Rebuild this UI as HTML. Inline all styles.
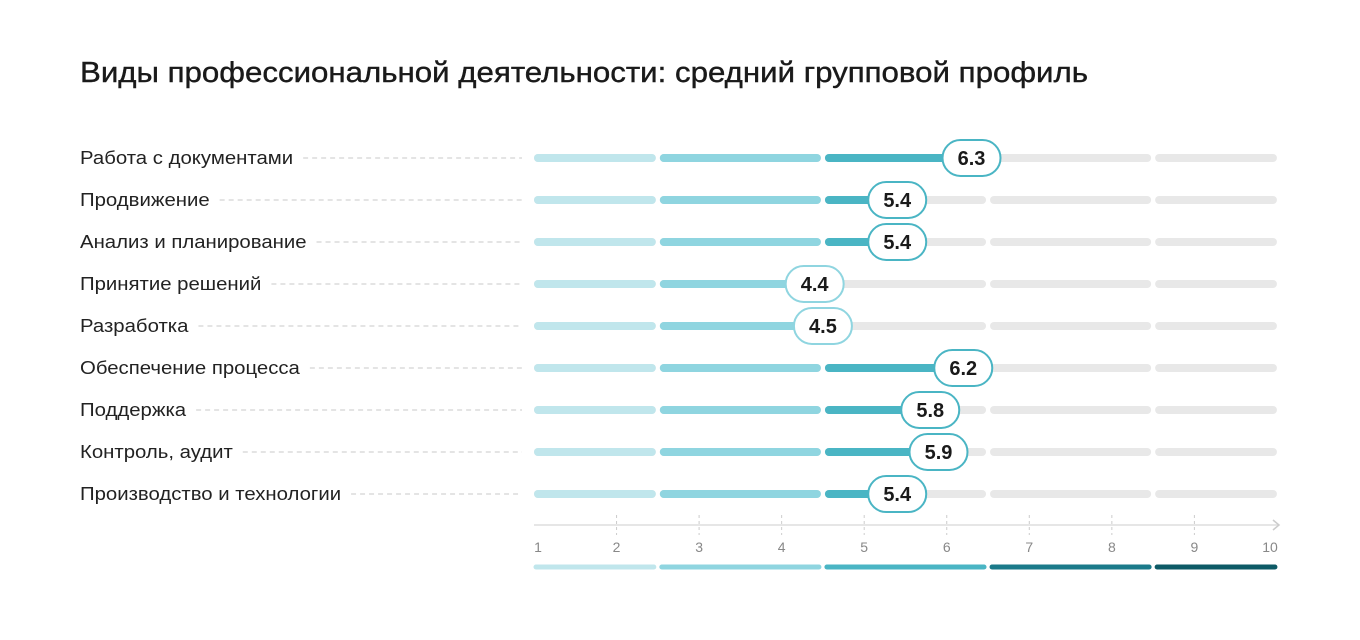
<!DOCTYPE html>
<html><head><meta charset="utf-8"><style>
body{margin:0;background:#fff;}
svg{display:block;font-family:"Liberation Sans",sans-serif;}
</style></head><body>
<svg width="1360" height="640" xmlns="http://www.w3.org/2000/svg">
<text x="80" y="82" font-size="29" fill="#1a1a1a" stroke="#1a1a1a" stroke-width="0.4" textLength="1008" lengthAdjust="spacingAndGlyphs">Виды профессиональной деятельности: средний групповой профиль</text>
<g id="rows"></g>
<line x1="534" y1="525" x2="1279" y2="525" stroke="#ddd" stroke-width="1.5"/>
<polyline points="1273,520 1279,525 1273,530" fill="none" stroke="#ccc" stroke-width="1.5"/>
<g id="axis" font-size="14" fill="#888" text-anchor="middle"></g>
<g id="legend"></g>
<script>
var NS="http://www.w3.org/2000/svg";
function X(v){return 534+(v-1)*82.55;}
function el(p,t,a,txt){var e=document.createElementNS(NS,t);for(var k in a)e.setAttribute(k,a[k]);if(txt!=null)e.textContent=txt;p.appendChild(e);return e;}
var segs=[[1,2.5,"#c0e6ec"],[2.5,4.5,"#8fd5e0"],[4.5,6.5,"#4ab5c4"],[6.5,8.5,"#1b7a8a"],[8.5,10,"#0d5a66"]];
function sx(s,i){return [X(s[0])+(i?2:0),X(s[1])-(i<4?2:0)];}
var data=[["Работа с документами",6.3],["Продвижение",5.4],["Анализ и планирование",5.4],["Принятие решений",4.4],["Разработка",4.5],["Обеспечение процесса",6.2],["Поддержка",5.8],["Контроль, аудит",5.9],["Производство и технологии",5.4]];
var rows=document.getElementById("rows");
data.forEach(function(d,r){
 var y=158+r*42;
 var t=el(rows,"text",{x:80,y:y+6,"font-size":18,fill:"#222"},d[0]);
 var w=t.getComputedTextLength()*1.13;
 t.setAttribute("textLength",w);t.setAttribute("lengthAdjust","spacingAndGlyphs");
 el(rows,"line",{x1:80+w+10,y1:y,x2:522,y2:y,stroke:"#d4d4d4","stroke-width":1.2,"stroke-dasharray":"5,4"});
 var v=d[1],col="#8fd5e0";
 segs.forEach(function(s,i){
  var a=sx(s,i);
  el(rows,"line",{x1:a[0]+4,y1:y,x2:a[1]-4,y2:y,stroke:"#e8e8e8","stroke-width":8,"stroke-linecap":"round"});
  if(v>s[0]){var e=Math.min(a[1],X(v));el(rows,"line",{x1:a[0]+4,y1:y,x2:Math.max(a[0]+4,e-4),y2:y,stroke:s[2],"stroke-width":8,"stroke-linecap":"round"});}
  if(v>s[0]&&v<=s[1])col=s[2];
 });
 if(col=="#c0e6ec")col="#8fd5e0";
 var cx=X(v);
 el(rows,"rect",{x:cx-29,y:y-18,width:58,height:36,rx:18,fill:"#fff",stroke:col,"stroke-width":2});
 el(rows,"text",{x:cx,y:y+7,"font-size":20,"font-weight":"bold",fill:"#1a1a1a","text-anchor":"middle"},v.toFixed(1));
});
var ax=document.getElementById("axis");
for(var i=1;i<=10;i++){var x=X(i);
 if(i>1&&i<10)el(ax,"line",{x1:x,y1:515,x2:x,y2:535,stroke:"#ccc","stroke-width":1,"stroke-dasharray":"3,3"});
 el(ax,"text",{x:i==1?538:(i==10?1270:x),y:552},i);}
var lg=document.getElementById("legend");
segs.forEach(function(s,i){var a=sx(s,i);el(lg,"line",{x1:a[0]+2,y1:567,x2:a[1]-2,y2:567,stroke:s[2],"stroke-width":5,"stroke-linecap":"round"});});
</script>
</svg>
</body></html>
